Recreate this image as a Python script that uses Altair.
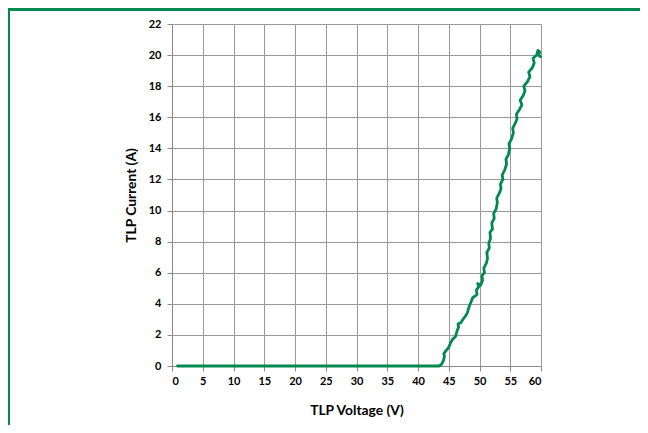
import altair as alt
import pandas as pd

voltage = [0.9, 43.4, 43.8, 44.1, 44.3, 44.2, 44.6, 45.0, 45.3, 45.6, 46.1, 46.3, 46.6, 46.5,
           47.0, 47.3, 47.7, 48.0, 48.3, 48.6, 48.9, 49.3, 49.6, 49.5, 49.9, 49.7, 50.2, 50.5,
           50.4, 50.8, 50.7, 51.1, 51.3, 51.2, 51.6, 51.5, 51.8, 51.7, 52.1, 52.0, 52.4, 52.3,
           52.7, 52.9, 52.8, 53.2, 53.5, 53.4, 53.8, 53.7, 54.1, 54.4, 54.3, 54.7, 54.9, 54.8,
           55.2, 55.5, 55.4, 55.8, 56.1, 56.0, 56.5, 56.9, 56.6, 57.1, 57.4, 57.2, 57.8, 58.2,
           58.0, 58.6, 58.9, 58.7, 59.3, 59.5, 59.8, 59.6, 59.9]
current = [0.0, 0.0, 0.1, 0.3, 0.6, 0.8, 1.0, 1.2, 1.5, 1.7, 1.9, 2.2, 2.5, 2.7,
           2.8, 3.0, 3.2, 3.4, 3.8, 4.1, 4.4, 4.5, 4.6, 4.9, 5.1, 5.3, 5.2, 5.5,
           5.8, 6.0, 6.3, 6.6, 6.9, 7.3, 7.6, 7.9, 8.2, 8.6, 8.8, 9.2, 9.5, 9.8,
           10.1, 10.5, 10.8, 11.1, 11.4, 11.7, 12.0, 12.3, 12.6, 13.0, 13.3, 13.6, 14.0, 14.3,
           14.6, 15.0, 15.3, 15.6, 15.9, 16.2, 16.5, 16.8, 17.1, 17.4, 17.7, 18.0, 18.3, 18.6,
           18.9, 19.2, 19.5, 19.8, 20.0, 20.3, 20.2, 20.0, 19.9]
x_ticks = list(range(0, 61, 5))
y_ticks = list(range(0, 23, 2))

df = pd.DataFrame({"V": voltage, "I": current, "idx": range(len(voltage))})

GREEN = "#008A4F"
FONT = "Lato"

line = alt.Chart(df).mark_line(color=GREEN, strokeWidth=2.8, interpolate="linear",
                               strokeJoin="round", strokeCap="round").encode(
    x=alt.X("V:Q", scale=alt.Scale(domain=[0, 60], nice=False),
            axis=alt.Axis(values=x_ticks, title="TLP Voltage (V)", titlePadding=17,
                          labelPadding=4, tickSize=5)),
    y=alt.Y("I:Q", scale=alt.Scale(domain=[0, 22], nice=False),
            axis=alt.Axis(values=y_ticks, title="TLP Current (A)", titlePadding=10,
                          labelPadding=6, tickSize=5)),
    order="idx:Q",
)

one = alt.Data(values=[{}])
border_left = alt.Chart(one).mark_rule(color=GREEN, strokeWidth=3).encode(
    x=alt.value(-163.5), y=alt.value(-16), y2=alt.value(500))
border_top = alt.Chart(one).mark_rule(color=GREEN, strokeWidth=3).encode(
    y=alt.value(-14.5), x=alt.value(-165), x2=alt.value(700))

chart = alt.layer(line, border_left, border_top).properties(
    width=369, height=342,
    autosize=alt.AutoSizeParams(type="none"),
    padding={"left": 164, "top": 16, "right": 99, "bottom": 59},
).configure_view(stroke=None).configure_axis(
    gridColor="#9a9a9a", gridWidth=1, domainColor="#8a8a8a", tickColor="#8a8a8a",
    labelFont=FONT, labelFontWeight="bold", labelFontSize=11, labelColor="#000",
    titleFont=FONT, titleFontWeight="bold", titleFontSize=13.8, titleColor="#000",
)

chart.save("out.html", embed_options={"renderer": "svg", "actions": False})
